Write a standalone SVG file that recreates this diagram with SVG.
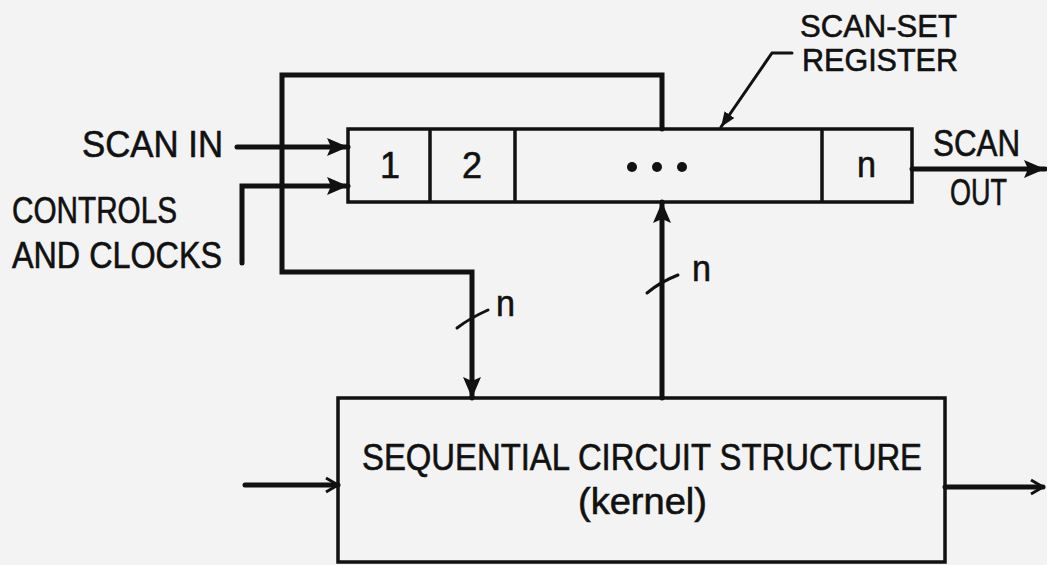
<svg xmlns="http://www.w3.org/2000/svg" width="1047" height="565" viewBox="0 0 1047 565">
<style>
.bg{fill:#f3f3f3}
.box{fill:none;stroke:#111;stroke-width:3.5}
.wire{fill:none;stroke:#111;stroke-width:5;stroke-linecap:round;stroke-linejoin:miter}
.thin{fill:none;stroke:#111;stroke-width:3;stroke-linecap:round}
.t{font-family:"Liberation Sans",Arial,sans-serif;font-size:37px;fill:#111;stroke:#111;stroke-width:0.6}
.s{font-size:32px}
.n{font-family:"Liberation Sans",Arial,sans-serif;font-size:36px;fill:#111;stroke:#111;stroke-width:0.6}
</style>
<defs>
<marker id="arr" markerUnits="userSpaceOnUse" markerWidth="22" markerHeight="20" refX="21" refY="10" orient="auto">
<path d="M0,1 L21,10 L0,19 L4,10 z" fill="#111"/>
</marker>
<marker id="open" markerUnits="userSpaceOnUse" markerWidth="18" markerHeight="18" refX="16" refY="9" orient="auto">
<path d="M4,2 L16,9 L4,16" fill="none" stroke="#111" stroke-width="3"/>
</marker>
<marker id="small" markerUnits="userSpaceOnUse" markerWidth="16" markerHeight="12" refX="15" refY="6" orient="auto">
<path d="M0,0 L15,6 L0,12 z" fill="#111"/>
</marker>
</defs>
<rect class="bg" x="0" y="0" width="1047" height="565"/>

<g id="connectors">
<path class="wire" d="M237,147 H348" marker-end="url(#arr)"/>
<path class="wire" d="M242,263 V186 H348" marker-end="url(#arr)"/>
<path class="wire" d="M662,129 V75 H282 V272 H472 V398" marker-end="url(#arr)"/>
<path class="wire" d="M662,398 V202" marker-end="url(#arr)"/>
<path class="wire" d="M912,169 H1045" marker-end="url(#arr)"/>
<path class="wire" d="M245,485 H338" marker-end="url(#open)"/>
<path class="wire" d="M945,487 H1043" marker-end="url(#open)"/>
<path class="thin" d="M457,328 Q470,318 488,310"/>
<path class="thin" d="M647,293 Q660,282 678,275"/>
<path class="thin" d="M792,53 H772 L721,127" marker-end="url(#small)"/>
<text class="n" x="496" y="316" textLength="19" lengthAdjust="spacingAndGlyphs">n</text>
<text class="n" x="692" y="281" textLength="19" lengthAdjust="spacingAndGlyphs">n</text>
</g>

<g id="register">
<rect class="box" x="348" y="129" width="564" height="73"/>
<line class="box" x1="430" y1="129" x2="430" y2="202"/>
<line class="box" x1="515" y1="129" x2="515" y2="202"/>
<line class="box" x1="822" y1="129" x2="822" y2="202"/>
<text class="n" x="390" y="178" text-anchor="middle" font-size="35">1</text>
<text class="n" x="472" y="178" text-anchor="middle" font-size="35">2</text>
<circle cx="632" cy="167" r="5" fill="#111"/>
<circle cx="657" cy="167" r="5" fill="#111"/>
<circle cx="682" cy="167" r="5" fill="#111"/>
<text class="n" x="857" y="177" textLength="19" lengthAdjust="spacingAndGlyphs">n</text>
</g>

<g id="register-label">
<text class="t s" x="800" y="37" textLength="157" lengthAdjust="spacingAndGlyphs">SCAN-SET</text>
<text class="t s" x="802" y="71" textLength="156" lengthAdjust="spacingAndGlyphs">REGISTER</text>
</g>

<g id="scan-in">
<text class="t" x="82" y="157" textLength="141" lengthAdjust="spacingAndGlyphs">SCAN IN</text>
</g>

<g id="controls">
<text class="t" x="12" y="223" textLength="165" lengthAdjust="spacingAndGlyphs">CONTROLS</text>
<text class="t" x="12" y="268" textLength="210" lengthAdjust="spacingAndGlyphs">AND CLOCKS</text>
</g>

<g id="scan-out">
<text class="t" x="933" y="156" textLength="87" lengthAdjust="spacingAndGlyphs">SCAN</text>
<text class="t" x="950" y="205" textLength="57" lengthAdjust="spacingAndGlyphs">OUT</text>
</g>

<g id="kernel">
<rect class="box" x="338" y="398" width="607" height="164"/>
<text class="t" x="362" y="470" textLength="560" lengthAdjust="spacingAndGlyphs">SEQUENTIAL CIRCUIT STRUCTURE</text>
<text class="t" x="578" y="514" textLength="129" lengthAdjust="spacingAndGlyphs">(kernel)</text>
</g>
</svg>
